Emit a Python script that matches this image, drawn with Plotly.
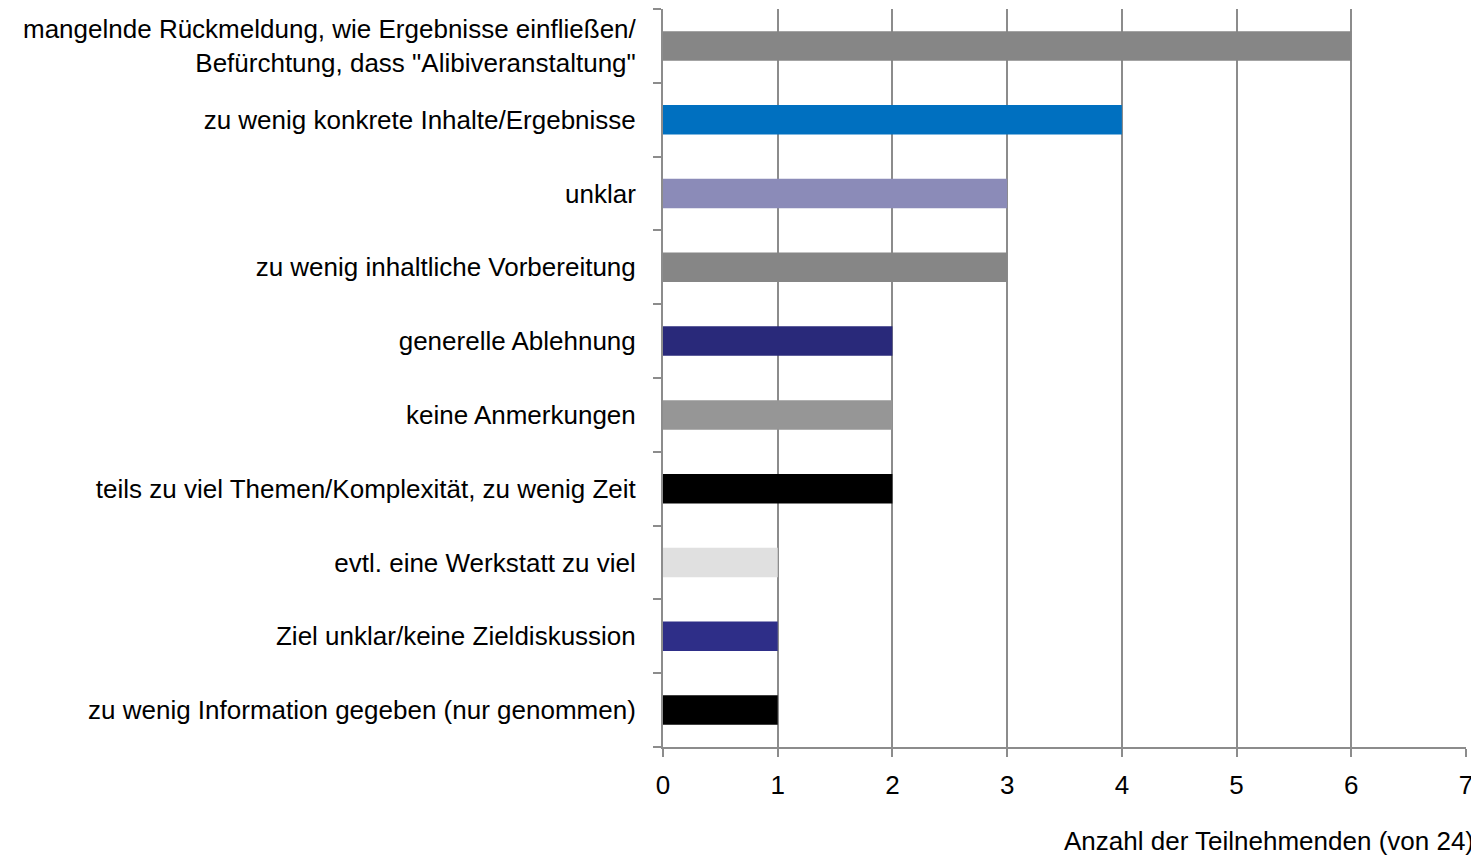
import plotly.graph_objects as go

categories = [
    "mangelnde Rückmeldung, wie Ergebnisse einfließen/<br>Befürchtung, dass \"Alibiveranstaltung\"",
    "zu wenig konkrete Inhalte/Ergebnisse",
    "unklar",
    "zu wenig inhaltliche Vorbereitung",
    "generelle Ablehnung",
    "keine Anmerkungen",
    "teils zu viel Themen/Komplexität, zu wenig Zeit",
    "evtl. eine Werkstatt zu viel",
    "Ziel unklar/keine Zieldiskussion",
    "zu wenig Information gegeben (nur genommen)",
]
values = [6, 4, 3, 3, 2, 2, 2, 1, 1, 1]
colors = ["#868686", "#0070C0", "#8B8BB8", "#868686", "#29297A",
          "#969696", "#000000", "#E0E0E0", "#2E2E88", "#000000"]

FONT = "Liberation Sans, Arial, sans-serif"

fig = go.Figure(go.Bar(
    x=values[::-1], y=categories[::-1], orientation="h",
    marker=dict(color=colors[::-1], line=dict(width=0)),
    width=0.4,
))

# page body has an 8px default margin, so the figure is sized to fit
fig.update_layout(
    width=1471, height=850,
    margin=dict(l=655, r=13, t=1, b=111),
    plot_bgcolor="white", paper_bgcolor="white",
    showlegend=False,
    font=dict(family=FONT, size=26, color="#000000"),
    xaxis=dict(
        range=[0, 7], tickvals=[0, 1, 2, 3, 4, 5, 6, 7],
        showgrid=True, gridcolor="#8C8C8C", gridwidth=2,
        showline=True, linecolor="#8C8C8C", linewidth=2,
        ticks="outside", ticklen=8, tickcolor="#8C8C8C", tickwidth=2,
        zeroline=False, tickfont=dict(size=26), ticklabelstandoff=6,
        automargin=False,
    ),
    yaxis=dict(
        type="category", tickson="boundaries",
        showgrid=False, showline=True, linecolor="#8C8C8C", linewidth=2,
        ticks="outside", ticklen=8, tickcolor="#8C8C8C", tickwidth=2,
        tickfont=dict(size=26), ticklabelstandoff=20,
        range=[-0.5, 9.5], automargin=False,
    ),
    annotations=[dict(
        text="Anzahl der Teilnehmenden (von 24)", xref="paper", yref="paper",
        x=1.0125, y=-0.1045, xanchor="right", yanchor="top", showarrow=False,
        font=dict(size=26),
    )],
)

fig.write_html("out.html")
